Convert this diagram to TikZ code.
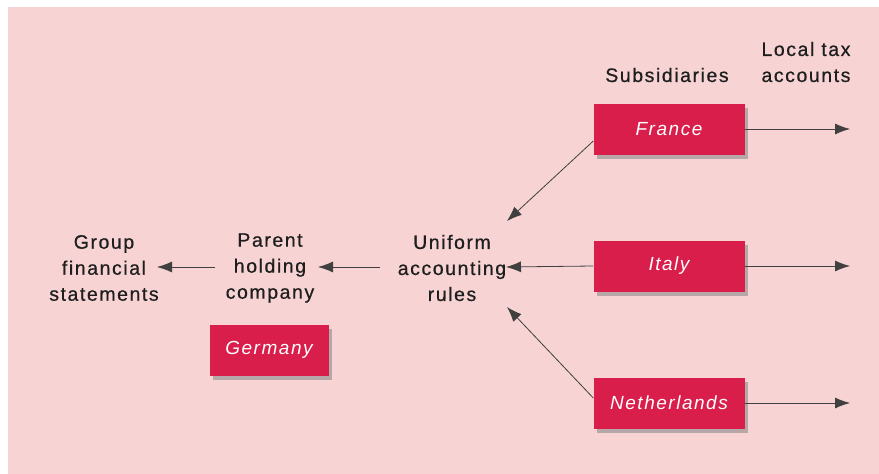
\documentclass[tikz,border=0pt]{standalone}
\usepackage{fontspec}
\setmainfont{Liberation Sans}[LetterSpace=8]
\newfontfamily\lblfont{Liberation Sans}[LetterSpace=8,FakeBold=0.6]
\usetikzlibrary{arrows.meta,shadows}
\definecolor{bgpink}{HTML}{F7D3D3}
\definecolor{boxred}{HTML}{D91E4B}
\definecolor{txt}{HTML}{1E1E1E}
\tikzset{
  redbox/.style={fill=boxred, minimum width=151pt, minimum height=51pt, inner sep=0pt,
    text=white, font=\fontsize{19}{22}\selectfont\itshape,
    drop shadow={shadow xshift=3pt, shadow yshift=-4pt, fill=black!45, opacity=0.6}},
  lbl/.style={align=center, text=txt, font=\lblfont\fontsize{19.5}{26}\selectfont, inner sep=2pt},
  arr/.style={draw=txt!85, line width=0.8pt, -{Latex[length=15pt,width=11pt]}}
}
\begin{document}
\begin{tikzpicture}[x=1pt,y=-1pt]
\useasboundingbox (0,0) rectangle (879,474);
\fill[white] (0,0) rectangle (879,474);
\fill[bgpink] (8,7) rectangle (879,474);

\node[redbox] (fr) at (669,129) {France};
\node[redbox] (it) at (669,266) {Italy};
\node[redbox] (nl) at (669,403) {Netherlands};
\node[redbox, minimum width=119pt] (de) at (269,350) {Germany};

\node[lbl] (sub) at (667,75) {Subsidiaries};
\node[lbl] (ltax) at (806,62) {Local tax\\accounts};
\node[lbl] (uar) at (452,268) {Uniform\\accounting\\rules};
\node[lbl] (phc) at (270,268) {Parent\\holding\\company};
\node[lbl] (gfs) at (104,268) {Group\\financial\\statements};

\coordinate (efr) at (850,129);
\coordinate (eit) at (850,266);
\coordinate (enl) at (850,403);
\draw[arr] (fr.east) -- (efr);
\draw[arr] (it.east) -- (eit);
\draw[arr] (nl.east) -- (enl);

\draw[arr] ([yshift=-12pt]fr.west) -- (507,221);
\draw[arr] (it.west) -- (506,267);
\draw[arr] ([yshift=5pt]nl.west) -- (507,307);

\draw[arr] (380,267) -- (318,267);
\draw[arr] (215,267) -- (157,267);
\end{tikzpicture}
\end{document}
